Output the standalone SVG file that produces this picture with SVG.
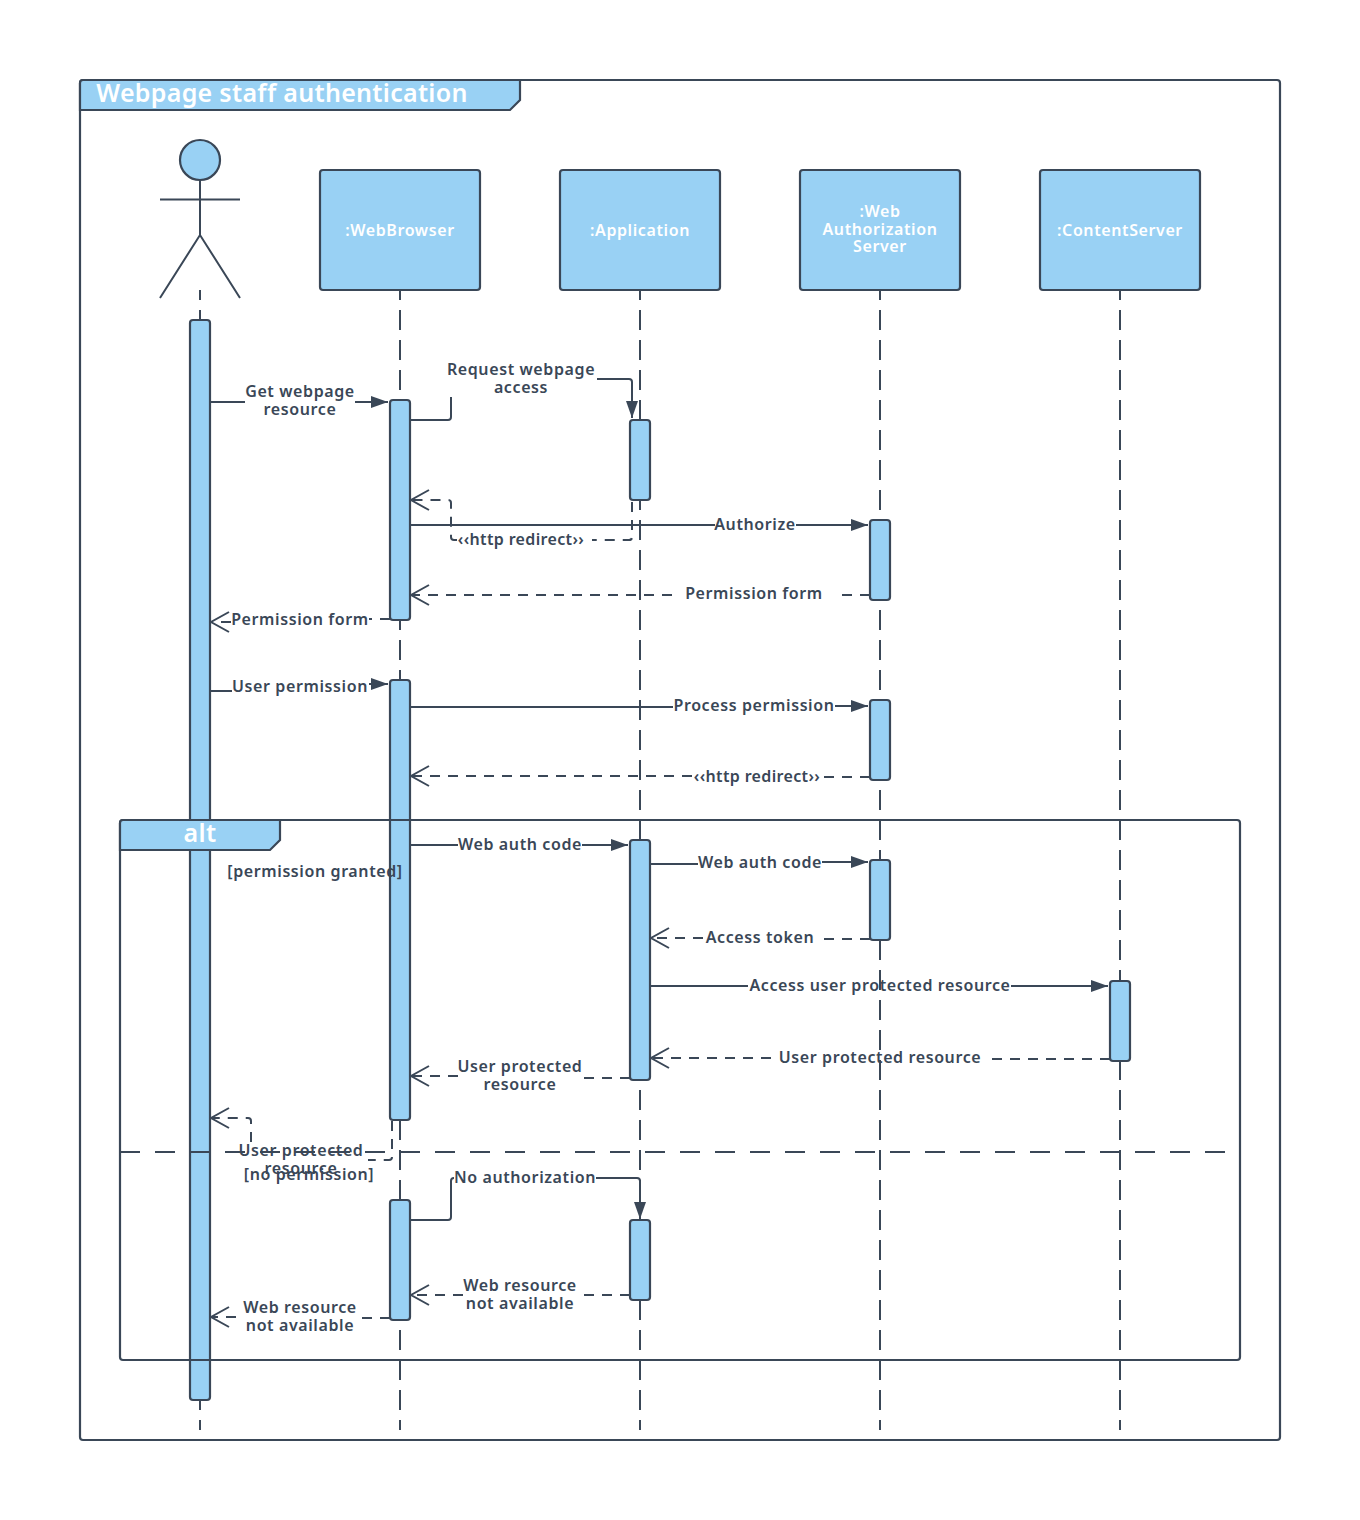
<svg xmlns="http://www.w3.org/2000/svg" width="1360" height="1520" viewBox="0 0 1360 1520">
<style>
text{font-family:"Noto Sans","Liberation Sans",sans-serif;font-weight:600;text-anchor:middle;letter-spacing:.6px}
.l{font-size:16px;fill:#3a4757}
.r{letter-spacing:.35px}
.w{font-size:16px;fill:#fff}
.t{font-size:25px;fill:#fff;letter-spacing:.3px}
.b{fill:#99d1f4;stroke:#3a4757;stroke-width:2.2}
.s{fill:none;stroke:#3a4757;stroke-width:2}
.d{fill:none;stroke:#3a4757;stroke-width:2;stroke-dasharray:10 8}
.ll{fill:none;stroke:#3a4757;stroke-width:2;stroke-dasharray:20 10;stroke-dashoffset:10}
</style>
<defs>
<marker id="fa" markerUnits="userSpaceOnUse" markerWidth="20" markerHeight="14" refX="18" refY="6" orient="auto"><path d="M1 0L18 6L1 12Z" fill="#3a4757"/></marker>
<marker id="oa" markerUnits="userSpaceOnUse" markerWidth="22" markerHeight="24" refX="19" refY="11" orient="auto"><path d="M2 1L20 11L2 21" fill="none" stroke="#3a4757" stroke-width="2"/></marker>
</defs>
<g id="frame"><rect x="80" y="80" width="1200" height="1360" rx="3" fill="#fff" stroke="#3a4757" stroke-width="2.2"/></g>
<g id="lifelines">
<path class="ll" d="M200 290V1430"/><path class="ll" d="M400 290V1430"/><path class="ll" d="M640 290V1430"/><path class="ll" d="M880 290V1430"/><path class="ll" d="M1120 290V1430"/>
</g>
<g id="actor"><circle class="b" cx="200" cy="160" r="20"/><path class="s" d="M200 180V235M160 199.500H240M160 298L200 235L240 298"/></g>
<g id="webbrowser"><rect class="b" x="320" y="170" width="160" height="120" rx="3"/><text class="w" x="400" y="236">:WebBrowser</text></g>
<g id="application"><rect class="b" x="560" y="170" width="160" height="120" rx="3"/><text class="w" x="640" y="236">:Application</text></g>
<g id="authserver"><rect class="b" x="800" y="170" width="160" height="120" rx="3"/><text class="w" x="880" y="217">:Web</text><text class="w" x="880" y="235">Authorization</text><text class="w" x="880" y="252">Server</text></g>
<g id="contentserver"><rect class="b" x="1040" y="170" width="160" height="120" rx="3"/><text class="w" x="1120" y="236">:ContentServer</text></g>
<g id="activations">
<rect class="b" x="190" y="320" width="20" height="1080" rx="3"/>
<rect class="b" x="390" y="400" width="20" height="220" rx="3"/><rect class="b" x="390" y="680" width="20" height="440" rx="3"/><rect class="b" x="390" y="1200" width="20" height="120" rx="3"/>
<rect class="b" x="630" y="420" width="20" height="80" rx="3"/><rect class="b" x="630" y="840" width="20" height="240" rx="3"/><rect class="b" x="630" y="1220" width="20" height="80" rx="3"/>
<rect class="b" x="870" y="520" width="20" height="80" rx="3"/><rect class="b" x="870" y="700" width="20" height="80" rx="3"/><rect class="b" x="870" y="860" width="20" height="80" rx="3"/>
<rect class="b" x="1110" y="981" width="20" height="80" rx="3"/>
</g>
<g id="connectors">
<path class="s" d="M211 402H245"/><path class="s" marker-end="url(#fa)" d="M355 402H388"/>
<path class="s" d="M411 420H448Q451 420 451 417V397"/><path class="s" marker-end="url(#fa)" d="M597 379H629Q632 379 632 382V418"/>
<path class="d" d="M632 502V537Q632 540 629 540H592"/><path class="d" marker-end="url(#oa)" d="M457 540H454Q451 540 451 537V503Q451 500 448 500H412"/>
<path class="s" d="M411 525H715"/><path class="s" marker-end="url(#fa)" d="M796 525H868"/>
<path class="d" d="M870 595H836"/><path class="d" marker-end="url(#oa)" d="M672 595H412"/>
<path class="d" d="M390 619H369"/><path class="d" marker-end="url(#oa)" d="M231 622H212"/>
<path class="s" d="M211 691H232"/><path class="s" marker-end="url(#fa)" d="M369 684H388"/>
<path class="s" d="M411 707H673"/><path class="s" marker-end="url(#fa)" d="M835 706H868"/>
<path class="d" d="M870 777H822"/><path class="d" marker-end="url(#oa)" d="M692 776H412"/>
<path class="s" d="M411 845H458"/><path class="s" marker-end="url(#fa)" d="M582 845H628"/>
<path class="s" d="M651 864H698"/><path class="s" marker-end="url(#fa)" d="M822 862H868"/>
<path class="d" d="M870 939H824"/><path class="d" marker-end="url(#oa)" d="M703 938H652"/>
<path class="s" d="M651 986H748"/><path class="s" marker-end="url(#fa)" d="M1011 986H1108"/>
<path class="d" d="M1110 1059H990"/><path class="d" marker-end="url(#oa)" d="M771 1058H652"/>
<path class="d" d="M630 1078H583"/><path class="d" marker-end="url(#oa)" d="M458 1076H412"/>
<path class="d" d="M392 1121V1157Q392 1160 389 1160H368"/><path class="d" marker-end="url(#oa)" d="M251 1142V1121Q251 1118 248 1118H212"/>
<path class="s" d="M411 1220H448Q451 1220 451 1217V1181Q451 1178 454 1178"/><path class="s" marker-end="url(#fa)" d="M596 1178H637Q640 1178 640 1181V1219"/>
<path class="d" d="M630 1295H577"/><path class="d" marker-end="url(#oa)" d="M463 1295H412"/>
<path class="d" d="M390 1318H357"/><path class="d" marker-end="url(#oa)" d="M236 1317H212"/>
</g>
<g id="alt">
<rect x="120" y="820" width="1120" height="540" rx="3" fill="none" stroke="#3a4757" stroke-width="2.200"/>
<path d="M120 1152H1240" fill="none" stroke="#3a4757" stroke-width="2" stroke-dasharray="20 15"/>
<path class="b" d="M120 823Q120 820 123 820H280V840L270 850H120Z"/>
<text class="t" x="200" y="842">alt</text>
<text class="l" x="315" y="877">[permission granted]</text>
<text class="l" x="309" y="1180">[no permission]</text>
</g>
<g id="title"><path class="b" d="M80 83Q80 80 83 80H520V100L510 110H80Z"/><text class="t" x="282" y="102">Webpage staff authentication</text></g>
<g id="labels">
<text class="l" x="300" y="397">Get webpage</text><text class="l" x="300" y="414.500">resource</text>
<text class="l" x="521" y="375">Request webpage</text><text class="l" x="521" y="392.500">access</text>
<text class="l r" x="521" y="545">‹‹http redirect››</text>
<text class="l" x="755" y="530">Authorize</text>
<text class="l" x="754" y="599">Permission form</text>
<text class="l" x="300" y="625">Permission form</text>
<text class="l" x="300" y="692">User permission</text>
<text class="l" x="754" y="711">Process permission</text>
<text class="l r" x="757" y="782">‹‹http redirect››</text>
<text class="l" x="520" y="850">Web auth code</text>
<text class="l" x="760" y="868">Web auth code</text>
<text class="l" x="760" y="943">Access token</text>
<text class="l" x="880" y="991">Access user protected resource</text>
<text class="l" x="880" y="1063">User protected resource</text>
<text class="l" x="520" y="1072">User protected</text><text class="l" x="520" y="1090">resource</text>
<text class="l" x="301" y="1155.500">User protected</text><text class="l" x="301" y="1173.500">resource</text>
<text class="l" x="525" y="1183">No authorization</text>
<text class="l" x="520" y="1290.500">Web resource</text><text class="l" x="520" y="1308.500">not available</text>
<text class="l" x="300" y="1312.500">Web resource</text><text class="l" x="300" y="1330.500">not available</text>
</g>
</svg>
